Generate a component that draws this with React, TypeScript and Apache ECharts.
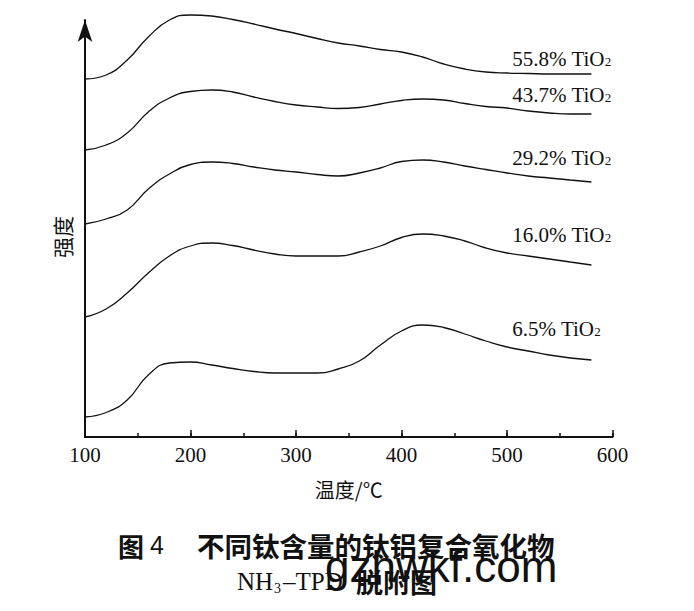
import React, { useEffect, useRef } from "react";
import * as echarts from "echarts";

// Temperature grid (°C)
const temps = [100, 120, 140, 160, 180, 200, 220, 240, 260, 280, 300, 320, 340, 360, 380, 400, 420, 440, 460, 480, 500, 520, 540, 560, 580];

// Intensity (arbitrary units, stacked offsets as in the figure)
const ti558 = [358, 362, 377, 400, 417, 422, 421, 417.5, 413, 408, 403.5, 398.5, 394, 391, 387.5, 385, 380, 373, 368, 365, 364, 363.5, 363, 363, 363];
const ti437 = [287, 292, 304, 325, 339, 345.5, 347, 345, 340, 335.5, 332, 330, 328.5, 329.5, 333, 336.5, 338, 337, 333.5, 330.5, 329, 326, 324, 323, 323];
const ti292 = [213, 218, 227, 248, 263, 272.5, 275, 273.5, 270, 267, 265, 262.5, 261, 264, 269, 275.5, 277, 275, 271, 267.5, 264, 261, 259, 257, 255];
const ti160 = [120, 128, 144, 164, 181, 191, 194, 191.5, 187, 183, 181, 181, 181, 185, 191, 199.5, 203, 201, 196, 189, 184, 181, 178, 175, 172];
const ti65 = [20, 24.5, 37, 62, 74, 75, 72, 68.5, 65.5, 64, 64, 64, 68, 76, 92, 106, 112, 109.5, 103, 96, 90, 86, 82, 79, 77];

const seriesNames = ["55.8%", "43.7%", "29.2%", "16.0%", "6.5%"];
const seriesValues = [ti558, ti437, ti292, ti160, ti65];
// label anchors [temperature, intensity]
const labelAnchors = [
  [505, 378],
  [505, 342],
  [505, 279],
  [505, 202],
  [505, 108],
];

const xTicks = [100, 200, 300, 400, 500, 600];

const serif = "'Liberation Serif', 'Times New Roman', serif";
const cjk = "'Noto Sans CJK SC', sans-serif";

export default function App() {
  const ref = useRef<HTMLDivElement>(null);

  useEffect(() => {
    if (!ref.current) return;
    const chart = echarts.init(ref.current, undefined, { renderer: "svg" });

    const series = seriesNames.map((name, k) => ({
      name,
      type: "line",
      xAxisIndex: 0,
      data: temps.map((t, i) => [t, seriesValues[k][i]]),
      smooth: 0.5,
      clip: false,
      showSymbol: false,
      lineStyle: { color: "#111", width: 1.3 },
      markPoint: {
        symbol: "circle",
        symbolSize: 0,
        silent: true,
        data: [
          {
            coord: labelAnchors[k],
            label: {
              show: true,
              position: "right",
              distance: 0,
              formatter: `{a|${name} TiO}{b|2}`,
              rich: {
                a: { fontFamily: serif, fontSize: 21, color: "#111" },
                b: { fontFamily: serif, fontSize: 13, color: "#111", padding: [5, 0, 0, 0] },
              },
            },
          },
        ],
      },
    }));

    chart.setOption({
      animation: false,
      backgroundColor: "#fff",
      grid: { left: 85, right: 81.5, top: 20, bottom: 174 },
      xAxis: [
        {
          type: "value",
          min: 100,
          max: 600,
          interval: 100,
          name: "温度/℃",
          nameLocation: "middle",
          nameGap: 42,
          nameTextStyle: { fontFamily: cjk, fontSize: 20, color: "#111" },
          axisLine: { show: true, onZero: false, lineStyle: { color: "#111", width: 2 } },
          axisTick: { show: true, inside: true, length: 7, lineStyle: { color: "#111", width: 1.5 } },
          splitLine: { show: false },
          axisLabel: {
            margin: 7,
            fontFamily: serif,
            fontSize: 21,
            color: "#111",
            formatter: (v: number) => (xTicks.includes(v) ? String(v) : ""),
          },
        },
        {
          type: "value",
          min: 100,
          max: 600,
          interval: 50,
          position: "bottom",
          axisLine: { show: false, onZero: false },
          axisTick: { show: true, inside: true, length: 4, lineStyle: { color: "#111", width: 1.5 } },
          axisLabel: { show: false },
          splitLine: { show: false },
        },
      ],
      yAxis: {
        type: "value",
        min: 0,
        max: 417,
        axisLine: {
          show: true,
          onZero: false,
          symbol: ["none", "arrow"],
          symbolSize: [11, 22],
          lineStyle: { color: "#111", width: 2 },
        },
        axisTick: { show: false },
        axisLabel: { show: false },
        splitLine: { show: false },
      },
      graphic: [
        {
          type: "text",
          x: 62,
          y: 237,
          rotation: Math.PI / 2,
          style: { text: "强度", fontFamily: cjk, fontSize: 21, fill: "#111", align: "center", verticalAlign: "middle" },
        },
        {
          type: "text",
          x: 118,
          y: 545,
          style: { text: "图", fontFamily: cjk, fontSize: 26, fontWeight: "bold", fill: "#111", verticalAlign: "middle" },
        },
        {
          type: "text",
          x: 150,
          y: 545,
          style: { text: "4", fontFamily: "'Liberation Sans', sans-serif", fontSize: 25, fill: "#111", verticalAlign: "middle" },
        },
        {
          type: "text",
          x: 197,
          y: 545,
          style: { text: "不同钛含量的钛铝复合氧化物", fontFamily: cjk, fontSize: 27.5, fontWeight: "bold", fill: "#111", verticalAlign: "middle" },
        },
        {
          type: "text",
          x: 237,
          y: 581,
          style: { text: "NH", fontFamily: serif, fontSize: 25, fill: "#111", verticalAlign: "middle" },
        },
        {
          type: "text",
          x: 274,
          y: 588,
          style: { text: "3", fontFamily: serif, fontSize: 14, fill: "#111", verticalAlign: "middle" },
        },
        {
          type: "text",
          x: 283,
          y: 581,
          style: { text: "–TPD", fontFamily: serif, fontSize: 25, fill: "#111", verticalAlign: "middle" },
        },
        {
          type: "text",
          x: 356,
          y: 581,
          style: { text: "脱附图", fontFamily: cjk, fontSize: 27, fontWeight: "bold", fill: "#111", verticalAlign: "middle" },
        },
        {
          type: "text",
          x: 325,
          y: 566,
          style: { text: "gzhwkf.com", fontFamily: "'Liberation Sans', Arial, sans-serif", fontSize: 44, fill: "#111", verticalAlign: "middle" },
        },
      ],
      series,
    });

    return () => chart.dispose();
  }, []);

  return (
    <div
      ref={ref}
      style={{ position: "fixed", left: 0, top: 0, width: 694, height: 611, background: "#fff" }}
    />
  );
}
